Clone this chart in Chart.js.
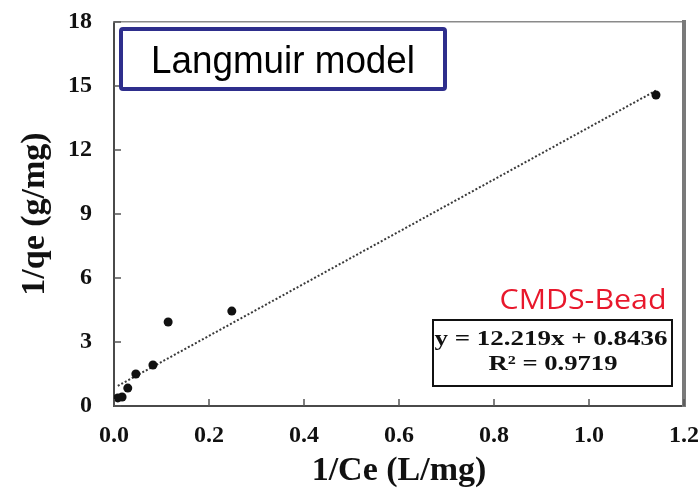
<!DOCTYPE html>
<html>
<head>
<meta charset="utf-8">
<script src="https://cdn.jsdelivr.net/npm/chart.js@4.4.0/dist/chart.umd.min.js"></script>
<style>
html, body { margin: 0; padding: 0; background: #fff; }
#wrap { width: 700px; height: 492px; }
</style>
</head>
<body>
<div id="wrap"><canvas id="myChart" width="700" height="492"></canvas></div>
<script>
// measured points: 1/Ce vs 1/qe
const invCe = [0.008, 0.017, 0.029, 0.046, 0.082, 0.114, 0.248, 1.141];
const invQe = [0.38, 0.42, 0.84, 1.50, 1.92, 3.94, 4.45, 14.58];

// linear fit reported on the plot
const fitSlope = 12.219;
const fitIntercept = 0.8436;
const fitR2 = 0.9719;
const fitRange = [0.008, 1.141];

const xTicks = [0, 0.2, 0.4, 0.6, 0.8, 1.0, 1.2];
const yTicks = [0, 3, 6, 9, 12, 15, 18];

const sampleName = 'CMDS-Bead';
const modelName = 'Langmuir model';

const serif = '"Liberation Serif", "Times New Roman", serif';
const sans = '"Liberation Sans", Arial, sans-serif';

// draw text squeezed/stretched to a given width
const fitText = (ctx, text, cx, baseline, width, font, color) => {
    ctx.save();
    ctx.font = font;
    const w = ctx.measureText(text).width;
    ctx.translate(cx, baseline);
    ctx.scale(width / w, 1);
    ctx.textAlign = 'center';
    ctx.textBaseline = 'alphabetic';
    ctx.fillStyle = color;
    ctx.fillText(text, 0, 0);
    ctx.restore();
};

const decorations = {
    id: 'decorations',
    afterDraw(chart) {
        const ctx = chart.ctx;
        const area = chart.chartArea;
        const xs = chart.scales.x, ys = chart.scales.y;

        ctx.save();
        // inward tick marks
        ctx.strokeStyle = '#555';
        ctx.lineWidth = 1.5;
        ctx.beginPath();
        xs.ticks.forEach((t, i) => {
            const px = xs.getPixelForTick(i);
            ctx.moveTo(px, area.bottom);
            ctx.lineTo(px, area.bottom - 7);
        });
        ys.ticks.forEach((t, i) => {
            const py = ys.getPixelForTick(i);
            ctx.moveTo(area.left, py);
            ctx.lineTo(area.left + 7, py);
        });
        ctx.stroke();

        // model label box
        ctx.strokeStyle = '#2e2e8c';
        ctx.lineWidth = 4;
        ctx.fillStyle = '#fff';
        ctx.beginPath();
        ctx.roundRect(121, 29, 324, 60, 2);
        ctx.fill();
        ctx.stroke();
        fitText(ctx, modelName, 283, 73, 264, '38px ' + sans, '#000');

        // sample name
        fitText(ctx, sampleName, 583, 309, 167, '28px "Open Sans", ' + sans, '#e8182c');

        // equation box
        ctx.strokeStyle = '#111';
        ctx.lineWidth = 2;
        ctx.strokeRect(433, 320, 239, 66);
        fitText(ctx, `y = ${fitSlope}x + ${fitIntercept}`, 551, 345, 233, 'bold 22px ' + serif, '#111');
        fitText(ctx, `R² = ${fitR2}`, 553, 370, 129, 'bold 22px ' + serif, '#111');
        ctx.restore();
    }
};

// bare axis used only for its border line (top / right frame)
const frameAxis = (position, color, width) => ({
    type: 'linear',
    position: position,
    display: true,
    min: 0,
    max: 1,
    grid: { display: false, drawTicks: false },
    ticks: { display: false },
    border: { display: true, color: color, width: width },
    afterFit: s => {
        if (s.isHorizontal()) { s.height = 0; s.paddingLeft = 0; s.paddingRight = 0; }
        else { s.width = 0; s.paddingTop = 0; s.paddingBottom = 0; }
    }
});

const renderChart = () => {
    const ctx = document.getElementById('myChart').getContext('2d');
    new Chart(ctx, {
        type: 'scatter',
        data: {
            datasets: [
                {
                    label: sampleName,
                    data: invCe.map((x, i) => ({ x: x, y: invQe[i] })),
                    backgroundColor: '#111',
                    borderWidth: 0,
                    pointRadius: 4.5,
                    order: 0
                },
                {
                    type: 'line',
                    label: 'fit',
                    data: fitRange.map(x => ({ x: x, y: fitSlope * x + fitIntercept })),
                    borderColor: '#3a3a3a',
                    borderWidth: 2,
                    borderDash: [2, 2],
                    pointRadius: 0,
                    fill: false,
                    order: 1
                }
            ]
        },
        options: {
            responsive: false,
            animation: false,
            layout: { padding: { top: 22, right: 16, left: 0, bottom: 0 } },
            plugins: { legend: { display: false }, tooltip: { enabled: false } },
            scales: {
                x: {
                    type: 'linear',
                    min: xTicks[0],
                    max: xTicks[xTicks.length - 1],
                    afterBuildTicks: s => { s.ticks = xTicks.map(v => ({ value: v })); },
                    afterFit: s => {
                        s.height = 86;
                        s.paddingLeft = 0;
                        s.paddingRight = 0;
                    },
                    grid: { display: false, drawTicks: false },
                    border: { color: '#4a4a4a', width: 2 },
                    ticks: {
                        padding: 15,
                        color: '#111',
                        font: { family: serif, size: 24, weight: 'bold' },
                        callback: v => v.toFixed(1)
                    },
                    title: {
                        display: true,
                        text: '1/Ce (L/mg)',
                        color: '#111',
                        padding: { top: 0, bottom: 0 },
                        font: { family: serif, size: 34, weight: 'bold' }
                    }
                },
                y: {
                    min: yTicks[0],
                    max: yTicks[yTicks.length - 1],
                    afterBuildTicks: s => { s.ticks = yTicks.map(v => ({ value: v })); },
                    afterFit: s => {
                        s.width = 114;
                        s.paddingTop = 0;
                        s.paddingBottom = 0;
                    },
                    grid: { display: false, drawTicks: false },
                    border: { color: '#4a4a4a', width: 2 },
                    ticks: {
                        padding: 22,
                        color: '#111',
                        font: { family: serif, size: 24, weight: 'bold' }
                    },
                    title: {
                        display: true,
                        text: '1/qe (g/mg)',
                        color: '#111',
                        padding: { top: 15, bottom: 0 },
                        font: { family: serif, size: 34, weight: 'bold' }
                    }
                },
                xTop: frameAxis('top', '#8a8a8a', 1.5),
                yRight: frameAxis('right', '#7a7a7a', 4)
            }
        },
        plugins: [decorations]
    });
};

renderChart();
</script>
</body>
</html>
